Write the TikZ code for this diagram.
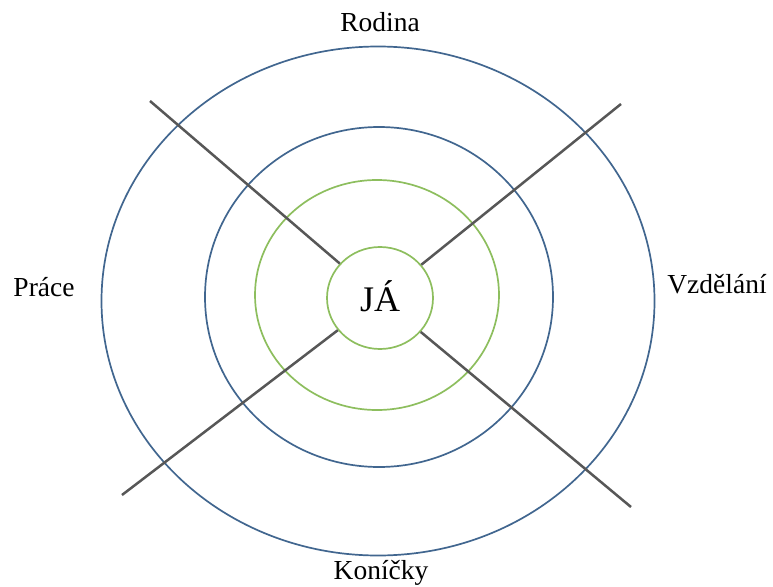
\documentclass[tikz,border=0pt]{standalone}
\usepackage{fontspec}
\setmainfont{Liberation Serif}
\usetikzlibrary{shapes.geometric}
\definecolor{ringblue}{HTML}{41668F}
\definecolor{ringgreen}{HTML}{8DBE5E}
\definecolor{spoke}{HTML}{575757}
\tikzset{
  ring/.style={draw=#1, line width=1.7pt, fill=none},
  spokeline/.style={draw=spoke, line width=2.5pt},
  label/.style={font=\fontsize{27.5}{33}\selectfont, anchor=base, inner sep=0pt}
}
\begin{document}
\begin{tikzpicture}[x=1pt, y=-1pt]
  \useasboundingbox (0,0) rectangle (773,586);
  % concentric rings
  \node[ring=ringblue, ellipse, minimum width=553pt, minimum height=509pt, inner sep=0pt] (outer) at (378,301) {};
  \node[ring=ringblue, ellipse, minimum width=348pt, minimum height=340pt, inner sep=0pt] (middle) at (379,297) {};
  \node[ring=ringgreen, ellipse, minimum width=244pt, minimum height=230pt, inner sep=0pt] (green) at (377,295) {};
  \node[ring=ringgreen, ellipse, minimum width=106pt, minimum height=102pt, inner sep=0pt] (ja) at (380,298) {};
  \node[font=\fontsize{36}{43}\selectfont, anchor=base, inner sep=0pt] (jatext) at (380,311) {JÁ};
  % spokes
  \coordinate (tl) at (150,101);
  \coordinate (tr) at (621,104);
  \coordinate (bl) at (122,495);
  \coordinate (br) at (631,507);
  \draw[spokeline] (tl) -- (ja);
  \draw[spokeline] (tr) -- (ja);
  \draw[spokeline] (bl) -- (ja);
  \draw[spokeline] (br) -- (ja);
  % sector labels
  \node[label] (rodina) at (380,32) {Rodina};
  \node[label] (prace) at (44,296) {Práce};
  \node[label] (vzdelani) at (717,293) {Vzdělání};
  \node[label] (konicky) at (381,579) {Koníčky};
\end{tikzpicture}
\end{document}
